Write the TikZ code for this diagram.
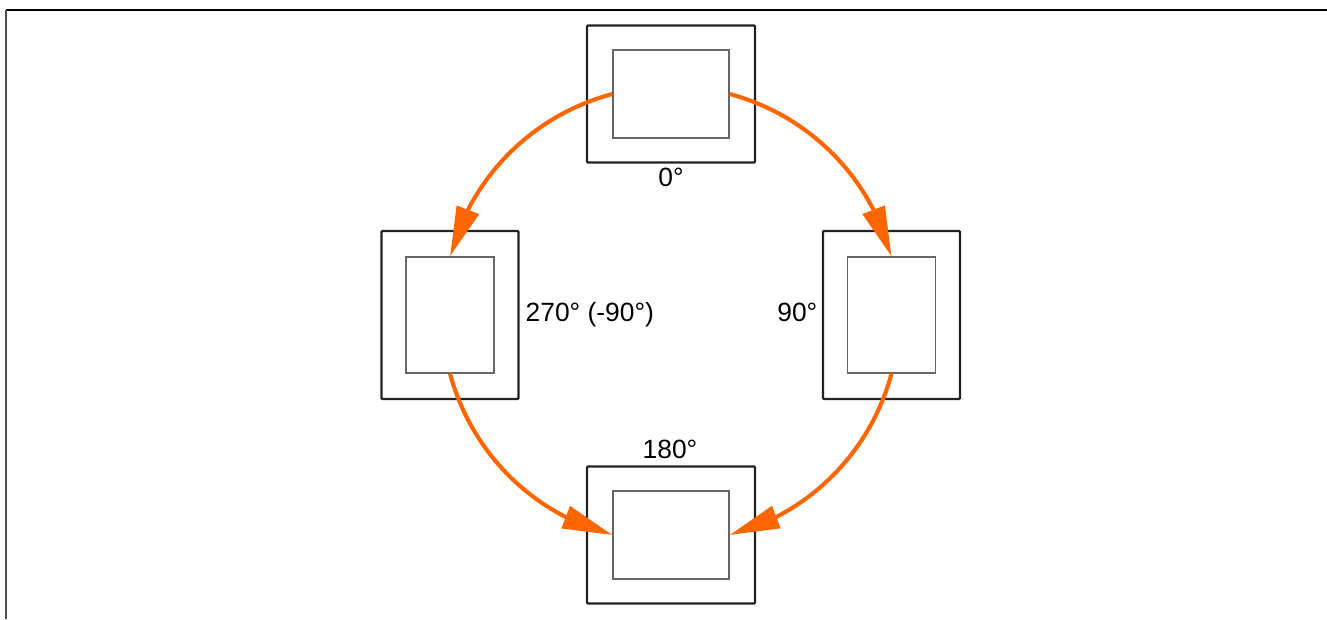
\documentclass[tikz,border=0pt]{standalone}
\usepackage{fontspec}
\setmainfont{Liberation Sans}
\usetikzlibrary{arrows.meta,bending}
\definecolor{rotorange}{HTML}{FF6600}
\definecolor{bezelline}{HTML}{222222}
\definecolor{screenline}{HTML}{666666}
\definecolor{rim}{HTML}{505050}
\tikzset{
  bezel/.style={draw=bezelline, line width=2.2pt, rounded corners=1pt, inner sep=0pt},
  land bezel/.style={bezel, minimum width=168pt, minimum height=137pt},
  port bezel/.style={bezel, minimum width=137pt, minimum height=168pt},
  screen/.style={draw=screenline, line width=1.2pt, inner sep=0pt},
  land screen/.style={screen, minimum width=116pt, minimum height=88pt},
  port screen/.style={screen, minimum width=88pt, minimum height=116pt},
  deg/.style={font=\fontsize{26.4}{30}\selectfont, inner sep=0pt},
  rotation/.style={draw=rotorange, line width=4.1pt, looseness=0.92,
    -{Triangle[length=50pt, width=23pt, flex]}},
}

\begin{document}
\begin{tikzpicture}[x=1pt, y=-1pt]
\useasboundingbox (0,0) rectangle (1327,619);

%% ---- page frame --------------------------------------------------------
\draw[line width=1.2pt] (6,10) -- (1327,10);
\draw[rim, line width=1.8pt] (6,10) -- (6,619);

%% ---- displays: bezel and screen share a centre -------------------------
\foreach \n/\x/\y/\o in
    {top/671/94/land, bottom/671/535/land, left/450/315/port, right/891.5/315/port} {
  \node[\o\space bezel] (\n bezel) at (\x,\y) {};
  \node[\o\space screen] (\n) at (\x,\y) {};
}

% angle labels
\node[deg] (deg0) at (671,177) {0°};
\node[deg] (deg180) at (670,449) {180°};
\node[deg, anchor=base west] (deg270) at (525.5,321.7) {270° (-90°)};
\node[deg, anchor=base east] (deg90) at (817.5,321.7) {90°};

%% ---- turning directions ------------------------------------------------
\draw[rotation] (top.west) to[bend right=30] (left.north);
\draw[rotation] (top.east) to[bend left=30] (right.north);
\draw[rotation] (left.south) to[bend right=30] (bottom.west);
\draw[rotation] (right.south) to[bend left=30] (bottom.east);

\end{tikzpicture}
\end{document}
